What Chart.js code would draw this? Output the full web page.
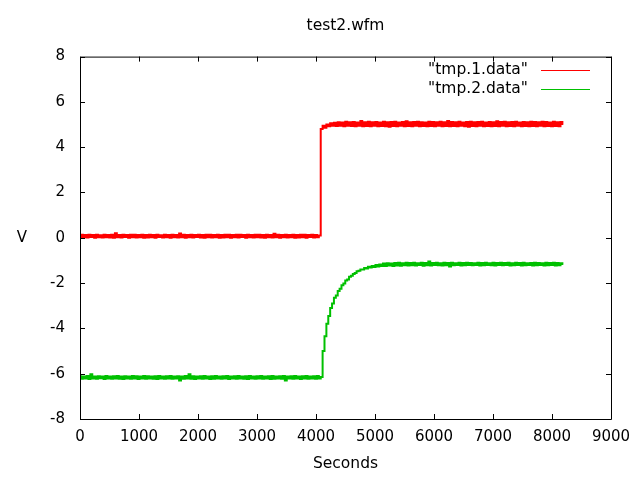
<!DOCTYPE html>
<html>
<head>
<meta charset="utf-8">
<script src="https://cdn.jsdelivr.net/npm/chart.js@4.4.1/dist/chart.umd.min.js"></script>
<style>
  html, body { margin: 0; padding: 0; background: #fff; }
</style>
</head>
<body>
<canvas id="waveChart" width="640" height="480"></canvas>
<script>
// sample spacing of the waveform, seconds
const sampleStep = 32;

const seriesNames = ['"tmp.1.data"', '"tmp.2.data"'];
const xTicks = [0, 1000, 2000, 3000, 4000, 5000, 6000, 7000, 8000, 9000];
const yTicks = [-8, -6, -4, -2, 0, 2, 4, 6, 8];

// channel 1 (0 .. 8192 s)
const tmp1 = [
  0.00, 0.13, 0.02, 0.12, 0.01, 0.14, 0.03, 0.12, 0.00, 0.13, 0.02, 0.11, 0.01, 0.14, 0.02, 0.12,
  0.01, 0.13, 0.00, 0.20, 0.02, 0.12, 0.01, 0.13, 0.03, 0.12, 0.00, 0.14, 0.02, 0.13, 0.01, 0.12,
  0.02, 0.14, 0.00, 0.12, 0.01, 0.13, 0.02, 0.12, 0.00, 0.13, 0.03, 0.11, 0.01, 0.14, 0.02, 0.12,
  0.00, 0.13, 0.02, 0.12, 0.01, 0.19, 0.02, 0.13, 0.00, 0.12, 0.02, 0.14, 0.01, 0.12, 0.03, 0.13,
  0.01, 0.12, 0.00, 0.14, 0.02, 0.13, 0.01, 0.12, 0.02, 0.13, 0.00, 0.12, 0.01, 0.14, 0.02, 0.13,
  0.00, 0.12, 0.02, 0.13, 0.01, 0.14, 0.03, 0.12, 0.00, 0.13, 0.02, 0.12, 0.01, 0.13, 0.02, 0.14,
  0.01, 0.12, 0.00, 0.13, 0.02, 0.12, 0.01, 0.18, 0.02, 0.13, 0.00, 0.12, 0.02, 0.14, 0.01, 0.12,
  0.02, 0.13, 0.00, 0.12, 0.01, 0.14, 0.02, 0.13, 0.00, 0.12, 0.03, 0.13, 0.01, 0.12, 0.02, 0.10,
  4.80, 4.95, 4.86, 5.00, 4.92, 5.06, 4.95, 5.08, 4.94, 5.10, 4.95, 5.09, 4.93, 5.12, 4.95, 5.10,
  4.94, 5.11, 4.93, 5.09, 4.95, 5.16, 4.93, 5.10, 4.94, 5.12, 4.92, 5.10, 4.95, 5.11, 4.93, 5.09,
  4.94, 5.12, 4.93, 5.10, 4.90, 5.11, 4.94, 5.12, 4.93, 5.09, 4.95, 5.11, 4.93, 5.15, 4.94, 5.10,
  4.93, 5.11, 4.95, 5.12, 4.93, 5.10, 4.94, 5.09, 4.92, 5.12, 4.94, 5.11, 4.93, 5.10, 4.95, 5.12,
  4.93, 5.10, 4.94, 5.16, 4.92, 5.11, 4.94, 5.10, 4.93, 5.12, 4.95, 5.09, 4.93, 5.11, 4.90, 5.12,
  4.94, 5.10, 4.93, 5.11, 4.95, 5.12, 4.93, 5.09, 4.94, 5.11, 4.92, 5.10, 4.94, 5.15, 4.93, 5.11,
  4.95, 5.12, 4.93, 5.10, 4.94, 5.11, 4.93, 5.12, 4.95, 5.09, 4.93, 5.11, 4.94, 5.10, 4.92, 5.12,
  4.94, 5.11, 4.93, 5.10, 4.95, 5.12, 4.93, 5.11, 4.94, 5.09, 4.93, 5.12, 4.94, 5.10, 4.93, 5.11,
  5.02
];

// channel 2
const tmp2 = [
  -6.11, -6.22, -6.12, -6.21, -6.10, -6.23, -6.02, -6.21, -6.12, -6.22, -6.11, -6.20, -6.12, -6.23, -6.10, -6.21,
  -6.12, -6.22, -6.11, -6.21, -6.10, -6.22, -6.12, -6.23, -6.11, -6.21, -6.12, -6.22, -6.10, -6.21, -6.11, -6.23,
  -6.12, -6.21, -6.10, -6.22, -6.11, -6.21, -6.12, -6.22, -6.11, -6.23, -6.10, -6.21, -6.12, -6.22, -6.11, -6.21,
  -6.10, -6.22, -6.12, -6.21, -6.11, -6.30, -6.12, -6.22, -6.10, -6.21, -6.02, -6.22, -6.11, -6.23, -6.12, -6.21,
  -6.11, -6.22, -6.10, -6.21, -6.12, -6.23, -6.11, -6.22, -6.10, -6.21, -6.12, -6.22, -6.11, -6.21, -6.10, -6.23,
  -6.12, -6.21, -6.11, -6.22, -6.10, -6.21, -6.12, -6.22, -6.11, -6.23, -6.10, -6.21, -6.12, -6.22, -6.11, -6.21,
  -6.10, -6.22, -6.12, -6.21, -6.11, -6.23, -6.10, -6.22, -6.12, -6.21, -6.11, -6.22, -6.10, -6.30, -6.12, -6.21,
  -6.11, -6.22, -6.10, -6.21, -6.12, -6.23, -6.11, -6.21, -6.10, -6.22, -6.12, -6.21, -6.11, -6.22, -6.10, -6.21,
  -6.15, -5.00, -4.35, -3.80, -3.45, -3.10, -2.90, -2.65, -2.55, -2.35, -2.25, -2.10, -2.02, -1.88, -1.84, -1.72,
  -1.68, -1.60, -1.55, -1.48, -1.46, -1.40, -1.40, -1.33, -1.35, -1.28, -1.31, -1.24, -1.29, -1.20, -1.27, -1.18,
  -1.25, -1.14, -1.24, -1.12, -1.22, -1.13, -1.24, -1.11, -1.22, -1.10, -1.23, -1.12, -1.21, -1.10, -1.22, -1.11,
  -1.21, -1.10, -1.22, -1.12, -1.20, -1.10, -1.23, -1.11, -1.21, -1.05, -1.22, -1.11, -1.20, -1.10, -1.21, -1.12,
  -1.22, -1.10, -1.21, -1.11, -1.27, -1.10, -1.21, -1.12, -1.20, -1.10, -1.22, -1.11, -1.21, -1.10, -1.20, -1.11,
  -1.21, -1.12, -1.20, -1.10, -1.22, -1.11, -1.21, -1.10, -1.20, -1.12, -1.21, -1.10, -1.22, -1.11, -1.20, -1.10,
  -1.21, -1.11, -1.20, -1.10, -1.22, -1.12, -1.21, -1.10, -1.20, -1.11, -1.22, -1.10, -1.21, -1.12, -1.20, -1.11,
  -1.22, -1.10, -1.21, -1.11, -1.20, -1.12, -1.22, -1.10, -1.21, -1.11, -1.20, -1.10, -1.22, -1.11, -1.21, -1.12,
  -1.16
];

const FONT = 'DejaVu Sans';
const toPoints = arr => arr.map((v, i) => ({ x: i * sampleStep, y: v }));

// gnuplot look: closed border, inward ticks, legend inside top right, horizontal "V"
const gnuplotFrame = {
  id: 'gnuplotFrame',
  afterDraw(chart) {
    const { ctx, chartArea: a, scales } = chart;
    const tk = 5;
    ctx.save();
    ctx.strokeStyle = '#000';
    ctx.lineWidth = 1;
    ctx.beginPath();
    ctx.rect(a.left + 0.5, a.top + 0.5, a.right - a.left, a.bottom - a.top);
    xTicks.forEach(v => {
      const px = Math.round(scales.x.getPixelForValue(v)) + 0.5;
      ctx.moveTo(px, a.bottom); ctx.lineTo(px, a.bottom - tk);
      ctx.moveTo(px, a.top); ctx.lineTo(px, a.top + tk);
    });
    yTicks.forEach(v => {
      const py = Math.round(scales.y.getPixelForValue(v)) + 0.5;
      ctx.moveTo(a.left, py); ctx.lineTo(a.left + tk, py);
      ctx.moveTo(a.right, py); ctx.lineTo(a.right - tk, py);
    });
    ctx.stroke();

    ctx.font = '15px "' + FONT + '"';
    ctx.fillStyle = '#000';
    ctx.textBaseline = 'middle';
    ctx.textAlign = 'center';
    ctx.fillText('V', 22, (a.top + a.bottom) / 2);

    ctx.font = '15.5px "' + FONT + '"';
    ctx.textAlign = 'right';
    chart.data.datasets.forEach((ds, i) => {
      const y = a.top + 13 + i * 19;
      ctx.fillStyle = '#000';
      ctx.fillText(ds.label, a.right - 83, y);
      ctx.strokeStyle = ds.borderColor;
      ctx.lineWidth = 1;
      ctx.beginPath();
      ctx.moveTo(a.right - 70, Math.round(y) + 0.5);
      ctx.lineTo(a.right - 21, Math.round(y) + 0.5);
      ctx.stroke();
    });
    ctx.restore();
  }
};

new Chart(document.getElementById('waveChart'), {
  type: 'line',
  data: {
    datasets: [
      { label: seriesNames[0], data: toPoints(tmp1), borderColor: '#ff0000', borderWidth: 2, stepped: 'middle', pointRadius: 0, fill: false },
      { label: seriesNames[1], data: toPoints(tmp2), borderColor: '#00c000', borderWidth: 2, stepped: 'middle', pointRadius: 0, fill: false }
    ]
  },
  options: {
    responsive: false,
    animation: false,
    layout: { padding: { left: 0, right: 29, top: 0, bottom: 0 } },
    plugins: {
      legend: { display: false },
      tooltip: { enabled: false },
      title: {
        display: true,
        text: 'test2.wfm',
        fullSize: false,
        color: '#000',
        font: { family: FONT, size: 15.5, weight: 'normal' },
        padding: { top: 17, bottom: 21 }
      }
    },
    scales: {
      x: {
        type: 'linear',
        min: 0,
        max: 9000,
        afterBuildTicks: s => { s.ticks = xTicks.map(v => ({ value: v })); },
        afterFit: s => { s.height = 61; },
        grid: { display: false, drawTicks: false },
        border: { display: false },
        ticks: { color: '#000', font: { family: FONT, size: 15 }, padding: 9, maxRotation: 0, callback: v => String(v) },
        title: { display: true, text: 'Seconds', color: '#000', font: { family: FONT, size: 15.5 }, padding: { top: 0, bottom: 7 } }
      },
      y: {
        type: 'linear',
        min: -8,
        max: 8,
        afterBuildTicks: s => { s.ticks = yTicks.map(v => ({ value: v })); },
        afterFit: s => { s.width = 80; },
        grid: { display: false, drawTicks: false },
        border: { display: false },
        ticks: { color: '#000', font: { family: FONT, size: 15 }, padding: 15, callback: v => String(v) }
      }
    }
  },
  plugins: [gnuplotFrame]
});
</script>
</body>
</html>
